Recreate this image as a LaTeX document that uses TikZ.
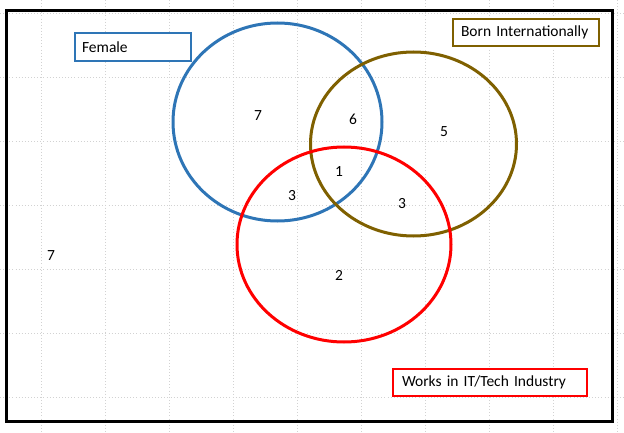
\documentclass[tikz,border=0pt]{standalone}
\usepackage{fontspec}
\setmainfont{Carlito}
\usepackage{tikz}
\usetikzlibrary{positioning}
\definecolor{femc}{RGB}{46,117,182}
\definecolor{bornc}{RGB}{127,96,0}
\definecolor{techc}{RGB}{255,0,0}
\definecolor{gridc}{RGB}{210,210,210}

\begin{document}
\begin{tikzpicture}[x=1pt, y=-1pt, every node/.style={font=\fontsize{15.5}{18}\selectfont},
  gridline/.style={gridc, line width=0.9pt, dash pattern=on 0.9pt off 2.2pt},
  setline/.style={line width=3pt},
  tagbox/.style={draw, line width=2.4pt, fill=white, minimum height=27pt, align=left, anchor=center},
  num/.style={inner sep=0pt}]
  \useasboundingbox (0,0) rectangle (624,433);
  % background grid
  \foreach \gx in {41,105,...,617} \draw[gridline] (\gx,0) -- (\gx,433);
  \foreach \gy in {13,77,...,397} \draw[gridline] (0,\gy) -- (624,\gy);
  \draw[line width=3pt] (6,11) rectangle (612,421);
  % the three sets
  \draw[setline, femc] (277.5,122) ellipse (104.5 and 99);
  \draw[setline, bornc] (413.5,144) ellipse (103 and 92);
  \draw[setline, techc] (344,244.5) ellipse (107 and 97.5);
  % set labels
  \node[tagbox, draw=femc, inner xsep=7pt, text width=102pt, minimum height=28pt] (female) at (133,47) {Female};
  \node[tagbox, draw=bornc, inner xsep=8pt, text width=130pt] (born) at (526,32.5) {Born Internationally};
  \node[tagbox, draw=techc, inner xsep=9pt, text width=176pt] (tech) at (490,382.5) {Works in IT/Tech Industry};
  % counts
  \node[num] (fOnly) at (258,116) {7};
  \node[num] (fb) at (353,119) {6};
  \node[num] (bOnly) at (444,132) {5};
  \node[num] (fbt) at (339,172) {1};
  \node[num] (ft) at (292,196) {3};
  \node[num] (bt) at (402,204) {3};
  \node[num] (tOnly) at (339,275) {2};
  \node[num] (none) at (51,256) {7};
\end{tikzpicture}
\end{document}
